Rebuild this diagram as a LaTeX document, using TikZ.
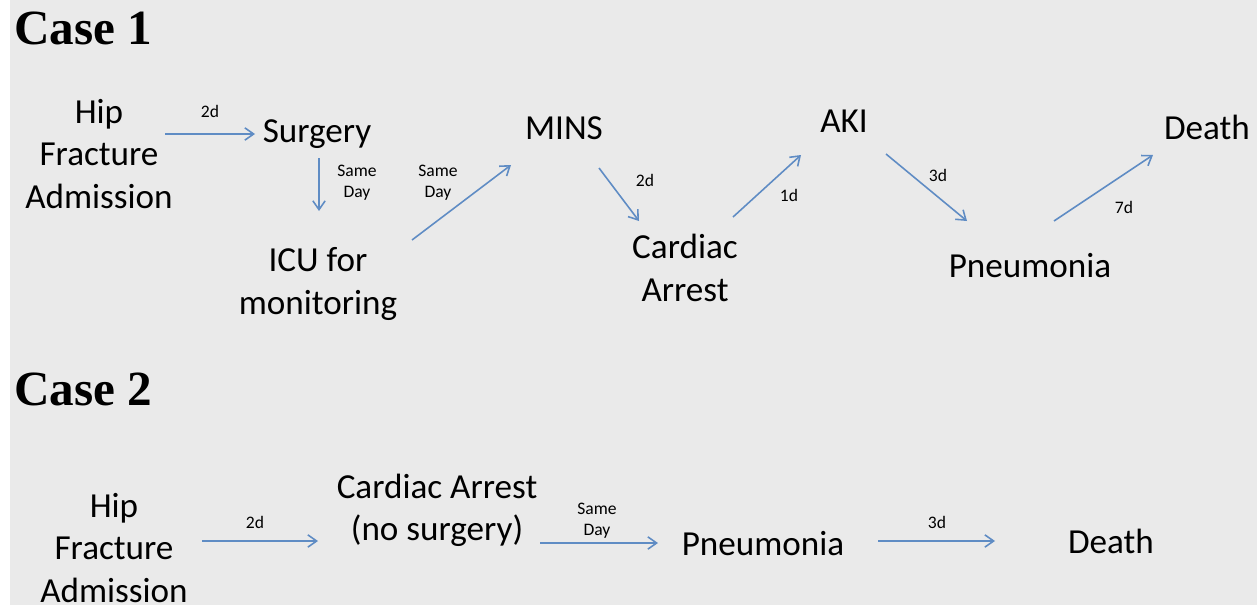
\documentclass[tikz,border=0pt]{standalone}
\usepackage{fontspec}
\setmainfont{Carlito}
\newfontfamily\titlefont{Liberation Serif}
\usetikzlibrary{arrows.meta}
\usetikzlibrary{calc}

\definecolor{arrowblue}{HTML}{5F8CC4}
\definecolor{slidegray}{HTML}{EAEAEA}

\begin{document}
\begin{tikzpicture}[x=0.02cm, y=-0.02cm,
  line/.style={>={Straight Barb[length=5pt,width=7pt]}},
  flow/.style={->, line, draw=arrowblue, line width=0.9pt},
  event/.style={inner sep=0pt, align=center, font=\fontsize{20}{24}\selectfont},
  gap/.style={inner sep=0pt, align=center, font=\fontsize{10}{12}\selectfont},
  case/.style={inner sep=0pt, anchor=base west, font=\titlefont\bfseries\fontsize{28}{32}\selectfont}]

\useasboundingbox (0,0) rectangle (1260,605);
\fill[slidegray] (10,0) rectangle (1257,605);

% case 1
\node[case] (case1) at (14,44) {Case 1};

\node[event] (hip1) at (99,154) {Hip\\Fracture\\Admission};
\node[event, anchor=base] (surg) at (317,142) {Surgery};
\node[event] (icu) at (318,284) {ICU for\\monitoring};
\node[event, anchor=base] (mins) at (564,139) {MINS};
\node[event] (card1) at (685,268) {Cardiac\\Arrest};
\node[event, anchor=base] (aki) at (844,132) {AKI};
\node[event, anchor=base] (pneu1) at (1030,277) {Pneumonia};
\node[event, anchor=base] (death1) at (1207,139) {Death};

\draw[flow] ($(hip1)+(66,-20)$) -- ($(surg.base)+(-62,-8)$);
\draw[flow] ($(surg.base)+(2,16)$) -- ($(icu)+(1,-73)$);
\draw[flow] ($(icu)+(94,-44)$) -- ($(mins.base)+(-53,26)$);
\draw[flow] ($(mins.base)+(35,29)$) -- ($(card1)+(-46,-47)$);
\draw[flow] ($(card1)+(48,-51)$) -- ($(aki.base)+(-43,23)$);
\draw[flow] ($(aki.base)+(42,22)$) -- ($(pneu1.base)+(-63,-56)$);
\draw[flow] ($(pneu1.base)+(24,-56)$) -- ($(death1.base)+(-54,16)$);

\node[gap] (g1) at (210,111) {2d};
\node[gap] (g2) at (357,183) {Same\\Day};
\node[gap] (g3) at (438,183) {Same\\Day};
\node[gap] (g4) at (645,180) {2d};
\node[gap] (g5) at (789,195) {1d};
\node[gap] (g6) at (938,175) {3d};
\node[gap] (g7) at (1124,207) {7d};

% case 2
\node[case] (case2) at (14,405) {Case 2};

\node[event] (hip2) at (114,548) {Hip\\Fracture\\Admission};
\node[event] (card2) at (437,510) {Cardiac Arrest\\(no surgery)};
\node[event, anchor=base] (pneu2) at (763,555) {Pneumonia};
\node[event, anchor=base] (death2) at (1111,553) {Death};

\draw[flow] ($(hip2)+(88,-7)$) -- ($(card2)+(-119,31)$);
\draw[flow] ($(card2)+(103,33)$) -- ($(pneu2.base)+(-105,-12)$);
\draw[flow] ($(pneu2.base)+(115,-14)$) -- ($(death2.base)+(-116,-12)$);

\node[gap] (g8) at (255,522) {2d};
\node[gap] (g9) at (597,521) {Same\\Day};
\node[gap] (g10) at (937,522) {3d};

\end{tikzpicture}
\end{document}
